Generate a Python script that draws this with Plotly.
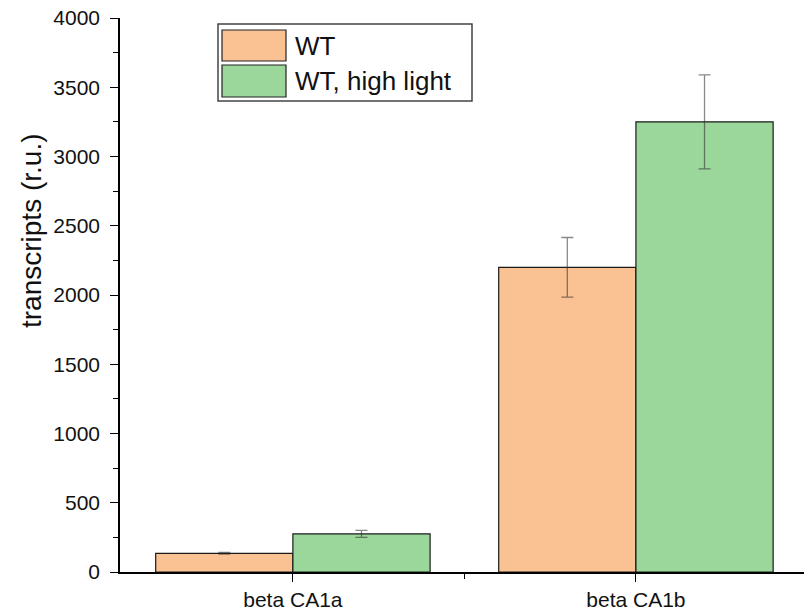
import plotly.graph_objects as go

categories = ["beta CA1a", "beta CA1b"]
series_names = ["WT", "WT, high light"]
wt_values = [135, 2200]
wt_errors = [6, 215]
hl_values = [275, 3250]
hl_errors = [25, 340]
y_ticks = [0, 500, 1000, 1500, 2000, 2500, 3000, 3500, 4000]

orange = "rgb(250,193,146)"
green = "rgb(155,214,155)"
xpos = list(range(len(categories)))

fig = go.Figure()
for name, vals, errs, col in [(series_names[0], wt_values, wt_errors, orange),
                              (series_names[1], hl_values, hl_errors, green)]:
    fig.add_trace(go.Bar(
        x=xpos, y=vals, name=name,
        marker=dict(color=col, line=dict(color="#1a1a1a", width=1.2)),
        error_y=dict(type="data", array=errs, visible=True,
                     color="rgba(40,40,40,0.55)", thickness=1.3, width=6),
        showlegend=False,
    ))

L, R, T, B = 120, 1, 18, 40
W, H = 805, 612
pw, ph = W - L - R, H - T - B


def px(x):
    return (x - L) / pw


def py(y):
    return (H - B - y) / ph


shapes = [
    dict(type="rect", xref="paper", yref="paper", x0=px(218), x1=px(472), y0=py(101), y1=py(24),
         line=dict(color="#444", width=1.5), fillcolor="white"),
    dict(type="rect", xref="paper", yref="paper", x0=px(222), x1=px(286), y0=py(61), y1=py(30),
         line=dict(color="#222", width=1.2), fillcolor=orange),
    dict(type="rect", xref="paper", yref="paper", x0=px(222), x1=px(286), y0=py(97), y1=py(65),
         line=dict(color="#222", width=1.2), fillcolor=green),
]
annotations = [
    dict(xref="paper", yref="paper", x=px(293), y=py(46), text=series_names[0], showarrow=False,
         xanchor="left", yanchor="middle", font=dict(size=26, color="#111")),
    dict(xref="paper", yref="paper", x=px(293), y=py(81), text=series_names[1], showarrow=False,
         xanchor="left", yanchor="middle", font=dict(size=26, color="#111")),
    dict(xref="paper", yref="paper", x=px(31), y=py(231), text="transcripts (r.u.)", showarrow=False,
         textangle=-90, xanchor="center", yanchor="middle", font=dict(size=28, color="#111")),
]

fig.update_layout(
    width=W, height=H,
    margin=dict(l=L, r=R, t=T, b=B, autoexpand=False),
    paper_bgcolor="white", plot_bgcolor="white",
    barmode="group", bargap=0.2, bargroupgap=0,
    font=dict(family="Liberation Sans, Arial, sans-serif", color="#111"),
    shapes=shapes, annotations=annotations,
)
fig.update_xaxes(
    range=[-0.504, 1.49], tickmode="array", tickvals=xpos, ticktext=categories,
    showline=True, linecolor="black", linewidth=1.5, ticks="outside", ticklen=8, tickwidth=1.3,
    tickcolor="black", showgrid=False, zeroline=False, tickfont=dict(size=21),
    ticklabelstandoff=0,
    minor=dict(tickmode="array", tickvals=[0.5], ticks="outside", ticklen=5, tickwidth=1.2, tickcolor="black"),
)
fig.update_yaxes(
    range=[0, 4000], tickmode="array", tickvals=y_ticks,
    showline=True, linecolor="black", linewidth=1.5, ticks="outside", ticklen=8, tickwidth=1.3,
    tickcolor="black", showgrid=False, zeroline=False, tickfont=dict(size=21),
    ticklabelstandoff=6,
    minor=dict(tickmode="array", tickvals=[v + 250 for v in y_ticks[:-1]], ticks="outside",
               ticklen=5, tickwidth=1.2, tickcolor="black"),
)

fig.write_html("out.html")
